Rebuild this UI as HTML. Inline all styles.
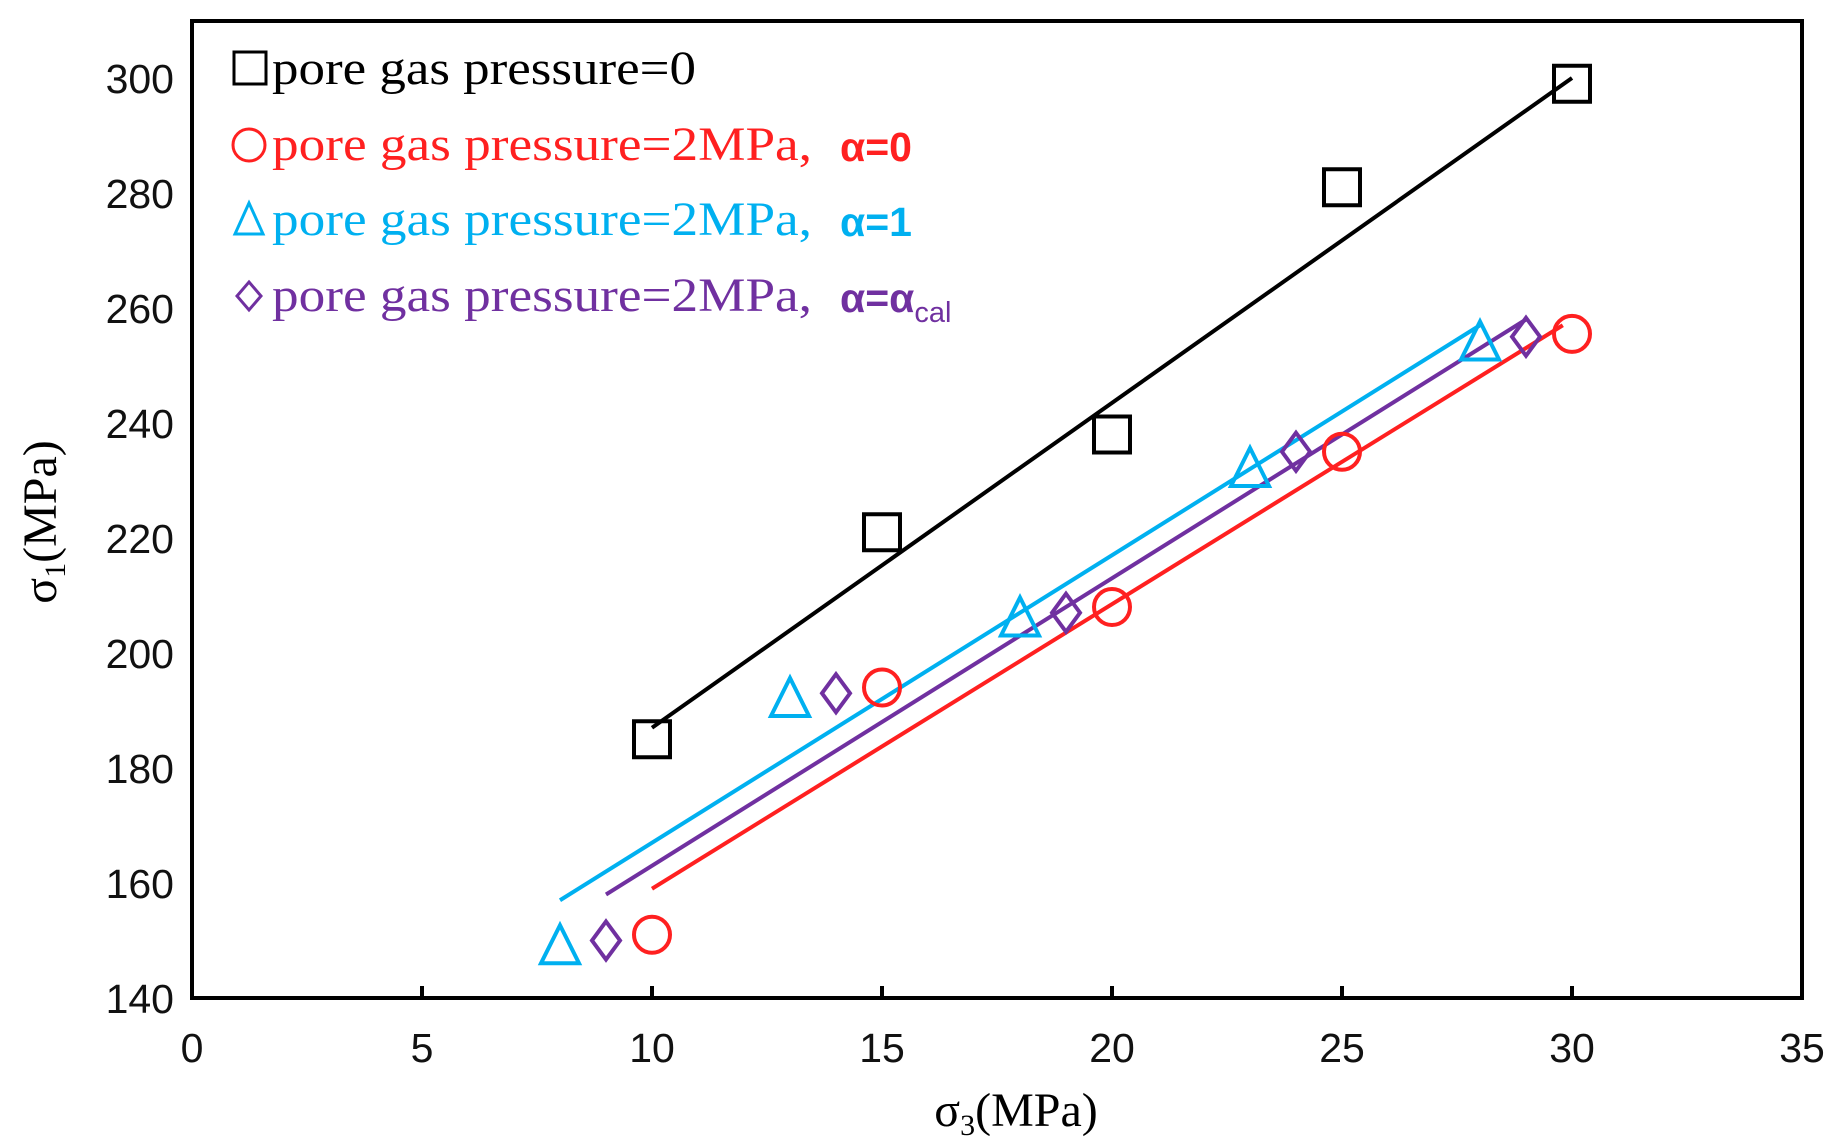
<!DOCTYPE html>
<html><head><meta charset="utf-8"><style>
body{margin:0;background:#fff}
svg{display:block}
.tk{font-family:"Liberation Sans",sans-serif;font-size:41px;fill:#111}
.lg{font-family:"Liberation Serif",serif;font-size:48px}
.ax{font-family:"Liberation Serif",serif;font-size:48px}
.al{font-family:"Liberation Sans",sans-serif;font-size:41px;font-weight:bold}
</style></head><body>
<svg id="chart" width="1848" height="1147" viewBox="0 0 1848 1147"></svg>
<script>
const xTicks=[0,5,10,15,20,25,30,35];
const yTicks=[140,160,180,200,220,240,260,280,300];
const sqX=[10,15,20,25,30], sqY=[185,221,238,281,299];
const ciX=[10,15,20,25,30], ciY=[151,194,208,235,255.5];
const trX=[8,13,18,23,28], trY=[149,192,206,232,254];
const diX=[9,14,19,24,29], diY=[150,193,207,235,255];
const sqLine=[[10,187],[30,300]];
const ciLine=[[10,159],[29.8,257]];
const trLine=[[8,157],[28,257]];
const diLine=[[9,158],[29,258]];
const X0=192,X1=1802,Y0=998,YT=78;
const sx=v=>X0+(v-0)*(X1-X0)/35;
const sy=v=>Y0-(v-140)*(Y0-YT)/160;
const svg=document.getElementById('chart');
const NS='http://www.w3.org/2000/svg';
function mk(t,a,p){const e=document.createElementNS(NS,t);for(const k in a)e.setAttribute(k,a[k]);(p||svg).appendChild(e);return e;}
let f=mk('rect',{x:X0,y:21,width:X1-X0,height:Y0-21,fill:'none',stroke:'#000','stroke-width':4});


xTicks.forEach(v=>{
  let l=mk('line',{x1:sx(v),x2:sx(v),y1:Y0,y2:Y0-12,stroke:'#000','stroke-width':4});
  
  
  let t=mk('text',{x:sx(v),y:1062,'text-anchor':'middle',class:'tk'});t.textContent=v;
  
  
});
yTicks.forEach(v=>{
  let t=mk('text',{x:174,y:sy(v)+15,'text-anchor':'end',class:'tk'});t.textContent=v;
  
  
});
function line(L,c,n){let e=mk('line',{x1:sx(L[0][0]),y1:sy(L[0][1]),x2:sx(L[1][0]),y2:sy(L[1][1]),stroke:c,'stroke-width':4});
  
  }
line(sqLine,'#000','fit-line-no-gas');
line(ciLine,'#ff2020','fit-line-alpha-0');
line(diLine,'#7030a0','fit-line-alpha-cal');
line(trLine,'#00b0f0','fit-line-alpha-1');
function marker(type,x,y,c,n){let e;
  if(type==='sq')e=mk('rect',{x:x-18,y:y-18,width:36,height:36,fill:'none',stroke:c,'stroke-width':4});
  else if(type==='ci')e=mk('circle',{cx:x,cy:y,r:18,fill:'none',stroke:c,'stroke-width':4});
  else if(type==='tr')e=mk('polygon',{points:`${x},${y-21} ${x-19},${y+17} ${x+19},${y+17}`,fill:'none',stroke:c,'stroke-width':4});
  else e=mk('polygon',{points:`${x},${y-19} ${x+14},${y} ${x},${y+19} ${x-14},${y}`,fill:'none',stroke:c,'stroke-width':4});
  
  }
sqX.forEach((v,i)=>marker('sq',sx(v),sy(sqY[i]),'#000','point-no-gas'));
ciX.forEach((v,i)=>marker('ci',sx(v),sy(ciY[i]),'#ff2020','point-alpha-0'));
trX.forEach((v,i)=>marker('tr',sx(v),sy(trY[i]),'#00b0f0','point-alpha-1'));
diX.forEach((v,i)=>marker('di',sx(v),sy(diY[i]),'#7030a0','point-alpha-cal'));
const leg=[['sq','#000','pore gas pressure=0','',69],['ci','#ff2020','pore gas pressure=2MPa,','α=0',145],['tr','#00b0f0','pore gas pressure=2MPa,','α=1',220],['di','#7030a0','pore gas pressure=2MPa,','α=α',296]];
leg.forEach((r,i)=>{
  if(r[0]==='sq'){let e=mk('rect',{x:234,y:r[4]-17,width:32,height:32,fill:'none',stroke:r[1],'stroke-width':3});}
  else if(r[0]==='ci'){let e=mk('circle',{cx:249,cy:r[4],r:16,fill:'none',stroke:r[1],'stroke-width':3});}
  else if(r[0]==='tr'){let e=mk('polygon',{points:`249,${r[4]-17} 235,${r[4]+14} 263,${r[4]+14}`,fill:'none',stroke:r[1],'stroke-width':3});}
  else {let e=mk('polygon',{points:`249,${r[4]-14} 261,${r[4]} 249,${r[4]+14} 237,${r[4]}`,fill:'none',stroke:r[1],'stroke-width':3});}
  let t=mk('text',{x:272,y:r[4]+15,class:'lg',fill:r[1],textLength:r[3]?540:424,lengthAdjust:'spacingAndGlyphs'});t.textContent=r[2];
  
  
  if(r[3]){let a=mk('text',{x:840,y:r[4]+16,class:'al',fill:r[1]});a.textContent=r[3];
    if(i===3){let sub=mk('tspan',{'font-size':'29',dy:'10','font-weight':'normal'},a);sub.textContent='cal';}
    
    }
});
let yt=mk('text',{x:0,y:0,class:'ax',fill:'#000',transform:'translate(56,522) rotate(-90)','text-anchor':'middle'});
yt.innerHTML='σ<tspan font-size="30" dy="9">1</tspan><tspan dy="-9">(MPa)</tspan>';


let xt=mk('text',{x:1016,y:1126,class:'ax',fill:'#000','text-anchor':'middle'});
xt.innerHTML='σ<tspan font-size="30" dy="9">3</tspan><tspan dy="-9">(MPa)</tspan>';


</script>
</body></html>
